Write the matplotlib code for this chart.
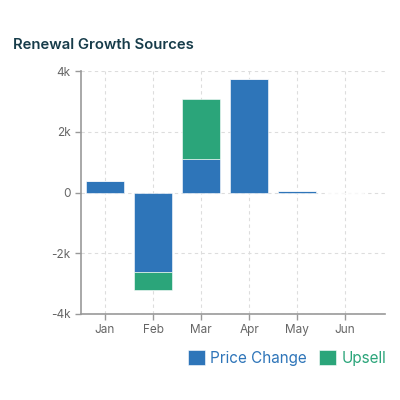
import numpy as np
import matplotlib.pyplot as plt

months = ['Jan', 'Feb', 'Mar', 'Apr', 'May', 'Jun']
price_change = [380, -2610, 1090, 3730, 50, 0]
upsell = [0, -590, 1990, 0, 0, 0]
yticks = [-4000, -2000, 0, 2000, 4000]
ytick_labels = ['-4k', '-2k', '0', '2k', '4k']

blue = '#2e75b9'
green = '#2ba57a'
grey = '#666666'

plt.rcParams['font.family'] = ['Inter', 'DejaVu Sans']

fig = plt.figure(figsize=(4, 4), dpi=100)
ax = fig.add_axes([0.2025, 0.215, 0.76, 0.6075])

x = np.arange(len(months))
ax.bar(x, price_change, width=0.8, color=blue, label='Price Change', zorder=3,
       edgecolor='white', linewidth=0.4)
ax.bar(x, upsell, width=0.8, bottom=price_change, color=green, label='Upsell',
       zorder=3, edgecolor='white', linewidth=0.4)

ax.set_xlim(-0.5, 5.83)
ax.set_ylim(-4000, 4000)
ax.set_xticks(x)
ax.set_xticklabels(months)
ax.set_yticks(yticks)
ax.set_yticklabels(ytick_labels)

ax.grid(True, linestyle=(0, (3, 3)), color='#dddddd', linewidth=0.8, zorder=0)
for s in ['top', 'right']:
    ax.spines[s].set_visible(False)
for s in ['left', 'bottom']:
    ax.spines[s].set_color('#999999')
    ax.spines[s].set_linewidth(1.2)
ax.tick_params(colors='#999999', labelcolor=grey, labelsize=8.5, length=4, width=1)

fig.text(0.033, 0.878, 'Renewal Growth Sources', fontsize=10.7, fontweight=600,
         color='#173c4a')

leg = fig.legend(loc='lower right', bbox_to_anchor=(0.965, 0.085), ncol=2,
                 frameon=False, fontsize=11, handlelength=1.1, handleheight=1.1,
                 handletextpad=0.35, columnspacing=0.8, borderaxespad=0,
                 borderpad=0, labelcolor='linecolor')

fig.savefig('out.png', dpi=100)
